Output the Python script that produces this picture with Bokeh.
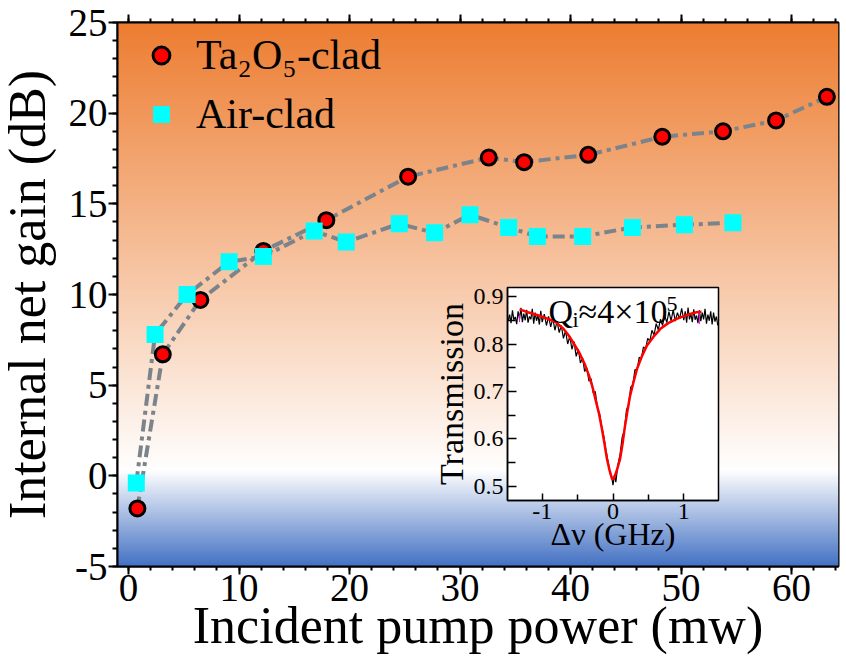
import numpy as np
from bokeh.plotting import figure
from bokeh.models import Range1d, FixedTicker, Legend, LegendItem, Label, LinearAxis
from bokeh.embed import file_html
from bokeh.resources import INLINE

# ---------------- data ----------------
ta_power = [0.8, 3.1, 6.5, 12.2, 17.9, 25.3, 32.6, 35.8, 41.6, 48.3, 53.8, 58.6, 63.2]
ta_gain = [-1.8, 6.7, 9.7, 12.4, 14.1, 16.5, 17.55, 17.3, 17.7, 18.7, 19.0, 19.6, 20.9]

air_power = [0.7, 2.4, 5.3, 9.1, 12.2, 16.8, 19.7, 24.5, 27.7, 30.9, 34.4, 37.0, 41.1, 45.6, 50.3, 54.7]
air_gain = [-0.4, 7.8, 10.0, 11.8, 12.1, 13.5, 12.9, 13.9, 13.4, 14.4, 13.7, 13.2, 13.2, 13.7, 13.85, 13.95]

x_ticks = [0, 10, 20, 30, 40, 50, 60]
y_ticks = [-5, 0, 5, 10, 15, 20, 25]

# inset: measured transmission (noisy) and Lorentzian fit
meas_dv = [-1.48, -1.46, -1.44, -1.42, -1.40, -1.38, -1.36, -1.34, -1.32, -1.30, -1.28, -1.26,
           -1.24, -1.22, -1.20, -1.18, -1.16, -1.14, -1.12, -1.10, -1.08, -1.06, -1.04, -1.02,
           -1.00, -0.97, -0.94, -0.91, -0.88, -0.85, -0.82, -0.79, -0.76, -0.73, -0.70, -0.67,
           -0.64, -0.61, -0.58, -0.55, -0.52, -0.49, -0.46, -0.43, -0.40, -0.37, -0.34, -0.31,
           -0.28, -0.25, -0.22, -0.19, -0.16, -0.13, -0.10, -0.07, -0.04, -0.02, 0.00, 0.02,
           0.04, 0.07, 0.10, 0.13, 0.16, 0.19, 0.22, 0.25, 0.28, 0.31, 0.34, 0.37, 0.40, 0.43,
           0.46, 0.49, 0.52, 0.55, 0.58, 0.61, 0.64, 0.67, 0.70, 0.73, 0.76, 0.79, 0.82, 0.85,
           0.88, 0.91, 0.94, 0.97, 1.00, 1.02, 1.04, 1.06, 1.08, 1.10, 1.12, 1.14, 1.16, 1.18,
           1.20, 1.22, 1.24, 1.26, 1.28, 1.30, 1.32, 1.34, 1.36, 1.38, 1.40, 1.42, 1.44, 1.46,
           1.48]
meas_t = [0.848, 0.862, 0.844, 0.871, 0.851, 0.857, 0.842, 0.869, 0.853, 0.876, 0.846, 0.864,
          0.850, 0.872, 0.845, 0.858, 0.852, 0.874, 0.843, 0.866, 0.849, 0.861, 0.841, 0.870,
          0.846, 0.863, 0.839, 0.858, 0.836, 0.854, 0.829, 0.848, 0.824, 0.839, 0.812, 0.828,
          0.800, 0.816, 0.789, 0.805, 0.774, 0.789, 0.760, 0.771, 0.742, 0.750, 0.722, 0.727,
          0.697, 0.700, 0.665, 0.654, 0.627, 0.606, 0.576, 0.553, 0.527, 0.521, 0.503, 0.524,
          0.509, 0.546, 0.568, 0.604, 0.618, 0.661, 0.672, 0.709, 0.714, 0.746, 0.745, 0.772,
          0.768, 0.794, 0.789, 0.812, 0.806, 0.829, 0.819, 0.843, 0.830, 0.852, 0.839, 0.861,
          0.845, 0.868, 0.849, 0.872, 0.848, 0.866, 0.853, 0.875, 0.850, 0.869, 0.845, 0.877,
          0.852, 0.864, 0.846, 0.873, 0.851, 0.860, 0.844, 0.871, 0.848, 0.866, 0.852, 0.874,
          0.843, 0.862, 0.849, 0.869, 0.841, 0.866, 0.847, 0.858, 0.839, 0.864, 0.846]

fit_dv = [-1.32, -1.2, -1.05, -0.9, -0.81, -0.7, -0.625, -0.55, -0.48, -0.4, -0.34, -0.29,
          -0.25, -0.2, -0.155, -0.12, -0.085, -0.05, -0.014, 0.01, 0.05, 0.1, 0.135, 0.17,
          0.205, 0.24, 0.29, 0.34, 0.41, 0.48, 0.57, 0.67, 0.78, 0.9, 1.04, 1.18, 1.25]
fit_t = [0.873, 0.867, 0.86, 0.852, 0.846, 0.832, 0.818, 0.80, 0.783, 0.758, 0.734, 0.71,
         0.685, 0.655, 0.62, 0.59, 0.558, 0.535, 0.516, 0.516, 0.532, 0.558, 0.59, 0.628,
         0.66, 0.69, 0.72, 0.748, 0.775, 0.797, 0.815, 0.832, 0.844, 0.853, 0.861, 0.867, 0.868]

marker_dv = [-1.32, 1.22]
marker_t0 = [0.846, 0.842]
marker_t1 = [0.862, 0.866]

inset_x_ticks = [-1, 0, 1]
inset_y_ticks = [0.5, 0.6, 0.7, 0.8, 0.9]

FONT = "Liberation Serif"

# ---------------- main figure ----------------
XR = (-1.0, 64.25)
YR = (-5.0, 25.0)
p = figure(x_range=Range1d(*XR), y_range=Range1d(*YR),
           frame_width=721, frame_height=544,
           min_border_left=125, min_border_top=22, min_border_right=8, min_border_bottom=92,
           output_backend="svg", toolbar_location=None)
p.styles = {"position": "absolute", "left": "-8px", "top": "0px"}
p.grid.visible = False
p.outline_line_color = "black"
p.outline_line_width = 2
p.border_fill_color = "white"

# gradient background (orange -> white -> blue)
ny = 600
ys = np.linspace(YR[0], YR[1], ny)
stop_y = [YR[0], 0.3, YR[1]]
rr = np.interp(ys, stop_y, [68, 255, 237])
gg = np.interp(ys, stop_y, [114, 255, 125])
bb = np.interp(ys, stop_y, [196, 255, 49])
img = np.empty((ny, 2), dtype=np.uint32)
view = img.view(dtype=np.uint8).reshape((ny, 2, 4))
view[:, :, 0] = rr[:, None].astype(np.uint8)
view[:, :, 1] = gg[:, None].astype(np.uint8)
view[:, :, 2] = bb[:, None].astype(np.uint8)
view[:, :, 3] = 255
p.image_rgba(image=[img], x=XR[0], y=YR[0], dw=XR[1] - XR[0], dh=YR[1] - YR[0])

line_col = "#7b838b"
p.line(ta_power, ta_gain, line_color=line_col, line_width=4, line_dash="12 5 4 5")
p.line(air_power, air_gain, line_color=line_col, line_width=4, line_dash="12 5 4 5")
r_ta = p.scatter(ta_power, ta_gain, marker="circle", size=15, fill_color="red",
                 line_color="black", line_width=3)
r_air = p.scatter(air_power, air_gain, marker="square", size=17, fill_color="cyan",
                  line_color=None)

legend = Legend(items=[LegendItem(label="Ta₂O₅-clad", renderers=[r_ta]),
                       LegendItem(label="Air-clad", renderers=[r_air])],
                location="top_left", margin=9, padding=0, spacing=11,
                glyph_width=70, glyph_height=42, label_height=46, label_standoff=0,
                label_text_font=FONT, label_text_font_size="42px", label_text_color="black",
                background_fill_alpha=0, border_line_color=None)
p.add_layout(legend)

x_minor = [v for v in range(0, 65, 2)]
y_minor = [v for v in range(-5, 26)]

xa = p.xaxis[0]
xa.ticker = FixedTicker(ticks=x_ticks, minor_ticks=x_minor)
xa.axis_label = "Incident pump power (mw)"
ya = p.yaxis[0]
ya.ticker = FixedTicker(ticks=y_ticks, minor_ticks=y_minor)
ya.axis_label = "Internal net gain (dB)"
ya.major_label_overrides = {-5: "-5"}

for ax in (xa, ya):
    ax.axis_line_width = 2
    ax.major_tick_line_width = 2
    ax.minor_tick_line_width = 2
    ax.major_tick_in = 0
    ax.minor_tick_in = 0
    ax.major_label_text_font = FONT
    ax.major_label_text_font_size = "39px"
    ax.major_label_text_color = "black"
    ax.axis_label_text_font = FONT
    ax.axis_label_text_font_size = "52px"
    ax.axis_label_text_font_style = "normal"
    ax.axis_label_text_color = "black"
xa.major_tick_out = 8
xa.minor_tick_out = 4
xa.major_label_standoff = 0
xa.axis_label_standoff = -7
ya.major_tick_out = 9
ya.minor_tick_out = 5
ya.major_label_standoff = 1
ya.axis_label_standoff = 10

top = LinearAxis(ticker=FixedTicker(ticks=x_ticks, minor_ticks=x_minor),
                 major_label_text_font_size="0px", major_label_text_color=None,
                 major_label_standoff=0,
                 axis_line_width=2, major_tick_line_width=2, minor_tick_line_width=2,
                 major_tick_out=8, major_tick_in=0, minor_tick_out=4, minor_tick_in=0)
p.add_layout(top, "above")

# ---------------- inset figure ----------------
IX = (-1.49, 1.49)
IY = (0.4705, 0.919)
ins = figure(x_range=Range1d(*IX), y_range=Range1d(*IY),
             frame_width=211, frame_height=213,
             min_border_left=82, min_border_top=7, min_border_right=5, min_border_bottom=60,
             output_backend="svg", toolbar_location=None)
ins.styles = {"position": "absolute", "left": "425px", "top": "280px"}
ins.grid.visible = False
ins.background_fill_color = "white"
ins.border_fill_alpha = 0
ins.outline_line_color = "black"
ins.outline_line_width = 1.5

ins.line(meas_dv, meas_t, line_color="black", line_width=1.2)
ins.segment(x0=marker_dv, y0=marker_t0, x1=marker_dv, y1=marker_t1, line_color="magenta", line_width=1)
ins.line(fit_dv, fit_t, line_color="red", line_width=2.5)

ixa = ins.xaxis[0]
ixa.ticker = FixedTicker(ticks=inset_x_ticks, minor_ticks=[-1.5, -0.5, 0.5, 1.5])
ixa.major_label_overrides = {-1: "-1"}
ixa.axis_label = "Δν (GHz)"
iya = ins.yaxis[0]
iya.ticker = FixedTicker(ticks=inset_y_ticks, minor_ticks=[0.55, 0.65, 0.75, 0.85])
iya.axis_label = "Transmission"
for ax in (ixa, iya):
    ax.axis_line_width = 1.5
    ax.major_tick_out = 0
    ax.minor_tick_out = 0
    ax.major_tick_line_width = 1.5
    ax.minor_tick_line_width = 1.5
    ax.major_label_text_font = FONT
    ax.major_label_text_font_size = "24px"
    ax.major_label_text_color = "black"
    ax.axis_label_text_font = FONT
    ax.axis_label_text_font_style = "normal"
    ax.axis_label_text_color = "black"
ixa.major_tick_in = 7
ixa.minor_tick_in = 6
ixa.major_label_standoff = 3
ixa.axis_label_text_font_size = "32px"
ixa.axis_label_standoff = -6
iya.major_tick_in = 9
iya.minor_tick_in = 8
iya.major_label_standoff = 4
iya.axis_label_text_font_size = "34px"
iya.axis_label_standoff = 1

# Q_i ≈ 4×10^5 annotation
q_x = -0.91
common = dict(text_font=FONT, text_color="black", text_baseline="alphabetic")
ins.add_layout(Label(x=q_x, y=0.868, text="Q", text_font_size="34px", **common))
ins.add_layout(Label(x=q_x, y=0.851, x_offset=24, text="i", text_font_size="22px", **common))
ins.add_layout(Label(x=q_x, y=0.868, x_offset=30, text="≈4×10", text_font_size="34px", **common))
ins.add_layout(Label(x=q_x, y=0.884, x_offset=118, text="5", text_font_size="22px", **common))

open("out.html", "w").write(file_html([p, ins], INLINE))
